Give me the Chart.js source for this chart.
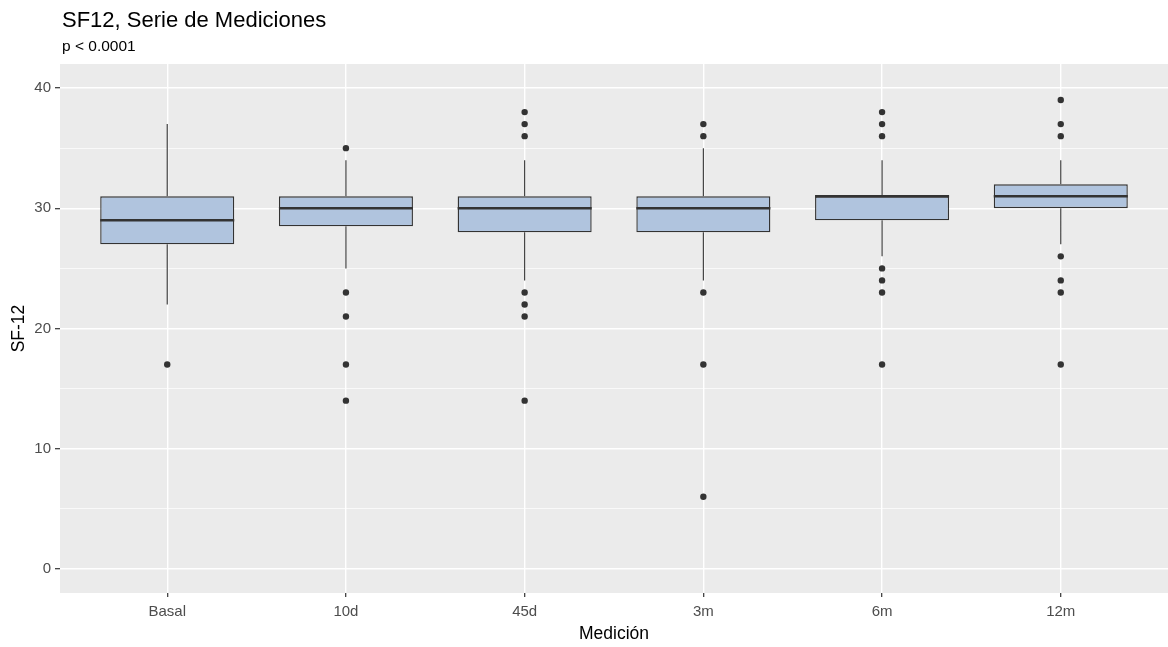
<!DOCTYPE html>
<html>
<head>
<meta charset="utf-8">
<title>SF12, Serie de Mediciones</title>
<script src="https://cdn.jsdelivr.net/npm/chart.js@4.4.1/dist/chart.umd.min.js"></script>
<style>
  html, body { margin: 0; padding: 0; background: #ffffff; overflow: hidden; }
  #wrap { width: 1168px; height: 647px; position: relative; }
</style>
</head>
<body>
<div id="wrap"><canvas id="boxChart"></canvas></div>
<script>
// --- DATA ---
const categories = ['Basal', '10d', '45d', '3m', '6m', '12m'];
const q1 = [27, 28.5, 28, 28, 29, 30];
const medians = [29, 30, 30, 30, 31, 31];
const q3 = [31, 31, 31, 31, 31, 32];
const whiskerLow = [22, 25, 24, 24, 26, 27];
const whiskerHigh = [37, 34, 34, 35, 34, 34];
const outliers = [
    [17],
    [35, 23, 21, 17, 14],
    [38, 37, 36, 23, 22, 21, 14],
    [37, 36, 23, 17, 6],
    [38, 37, 36, 25, 24, 23, 17],
    [39, 37, 36, 26, 24, 23, 17]
];
const yTicks = [0, 5, 10, 15, 20, 25, 30, 35, 40];

const chartTitle = 'SF12, Serie de Mediciones';
const chartSubtitle = 'p < 0.0001';

// box width in category units (ggplot style)
const BOX_HALF = 0.375;
const INK = '#333333';
const FONT = "'Liberation Sans', Arial, sans-serif";

// --- BUILD DATASETS ---
const boxData = categories.map((c, i) => ({ x: i + 1, y: [q1[i], q3[i]] }));

const whiskerData = [];
categories.forEach((c, i) => {
    whiskerData.push({ x: i + 1, y: q3[i] }, { x: i + 1, y: whiskerHigh[i] }, { x: i + 1, y: null });
    whiskerData.push({ x: i + 1, y: q1[i] }, { x: i + 1, y: whiskerLow[i] }, { x: i + 1, y: null });
});

const medianData = [];
categories.forEach((c, i) => {
    medianData.push({ x: i + 1 - BOX_HALF, y: medians[i] }, { x: i + 1 + BOX_HALF, y: medians[i] }, { x: i + 1, y: null });
});

const outlierData = [];
outliers.forEach((list, i) => list.forEach(v => outlierData.push({ x: i + 1, y: v })));

// panel background + title/subtitle drawn at the panel's left edge
const ggPanel = {
    id: 'ggPanel',
    beforeDraw(chart) {
        const { ctx, chartArea: a } = chart;
        ctx.save();
        ctx.fillStyle = '#EBEBEB';
        ctx.fillRect(a.left, a.top, a.right - a.left, a.bottom - a.top);
        ctx.restore();
    },
    afterDraw(chart) {
        const { ctx, chartArea: a } = chart;
        ctx.save();
        ctx.fillStyle = '#000000';
        ctx.textAlign = 'left';
        ctx.textBaseline = 'alphabetic';
        ctx.font = `22px ${FONT}`;
        ctx.fillText(chartTitle, a.left + 2, 27);
        ctx.font = `15.5px ${FONT}`;
        ctx.fillText(chartSubtitle, a.left + 2, 51);
        ctx.restore();
    }
};

const ctx = document.getElementById('boxChart').getContext('2d');
new Chart(ctx, {
    type: 'bar',
    data: {
        datasets: [
            {
                type: 'line',
                data: whiskerData,
                borderColor: INK,
                borderWidth: 1.1,
                pointRadius: 0,
                spanGaps: false,
                order: 4
            },
            {
                type: 'bar',
                data: boxData,
                backgroundColor: '#B0C4DE',
                borderColor: INK,
                borderWidth: 1.4,
                borderSkipped: false,
                categoryPercentage: BOX_HALF * 2,
                barPercentage: 1,
                order: 3
            },
            {
                type: 'line',
                data: medianData,
                borderColor: INK,
                borderWidth: 2.6,
                pointRadius: 0,
                spanGaps: false,
                order: 2
            },
            {
                type: 'scatter',
                data: outlierData,
                backgroundColor: INK,
                borderWidth: 0,
                pointRadius: 3.2,
                order: 1
            }
        ]
    },
    options: {
        responsive: true,
        maintainAspectRatio: false,
        animation: false,
        layout: { autoPadding: false, padding: { top: 64, right: 0, bottom: 0, left: 0 } },
        plugins: {
            legend: { display: false },
            tooltip: { enabled: false }
        },
        scales: {
            x: {
                type: 'linear',
                min: 0.4,
                max: 6.6,
                offset: false,
                afterBuildTicks: s => { s.ticks = categories.map((c, i) => ({ value: i + 1 })); },
                afterFit: s => { s.height = 54; s.paddingLeft = 0; s.paddingRight = 0; },
                ticks: {
                    callback: v => categories[v - 1],
                    color: '#4D4D4D',
                    font: { family: FONT, size: 15 },
                    padding: 6,
                    maxRotation: 0,
                    autoSkip: false
                },
                grid: {
                    offset: false,
                    color: '#FFFFFF',
                    lineWidth: 1.4,
                    tickColor: INK,
                    tickWidth: 1.2,
                    tickLength: 4
                },
                border: { display: false },
                title: {
                    display: true,
                    text: 'Medición',
                    color: '#000000',
                    font: { family: FONT, size: 17.5 },
                    padding: { top: 0, bottom: 2 }
                }
            },
            y: {
                type: 'linear',
                min: -2,
                max: 42,
                afterBuildTicks: s => { s.ticks = yTicks.map(v => ({ value: v })); },
                afterFit: s => { s.width = 60; },
                ticks: {
                    callback: v => (v % 10 === 0 ? v : ''),
                    color: '#4D4D4D',
                    font: { family: FONT, size: 15 },
                    padding: 4
                },
                grid: {
                    color: '#FFFFFF',
                    lineWidth: c => (c.tick && c.tick.value % 10 === 0 ? 1.4 : 0.7),
                    tickColor: c => (c.tick && c.tick.value % 10 === 0 ? INK : 'rgba(0,0,0,0)'),
                    tickWidth: 1.2,
                    tickLength: 5
                },
                border: { display: false },
                title: {
                    display: true,
                    text: 'SF-12',
                    color: '#000000',
                    font: { family: FONT, size: 17.5 },
                    padding: { top: 9, bottom: 0 }
                }
            }
        }
    },
    plugins: [ggPanel]
});
</script>
</body>
</html>
